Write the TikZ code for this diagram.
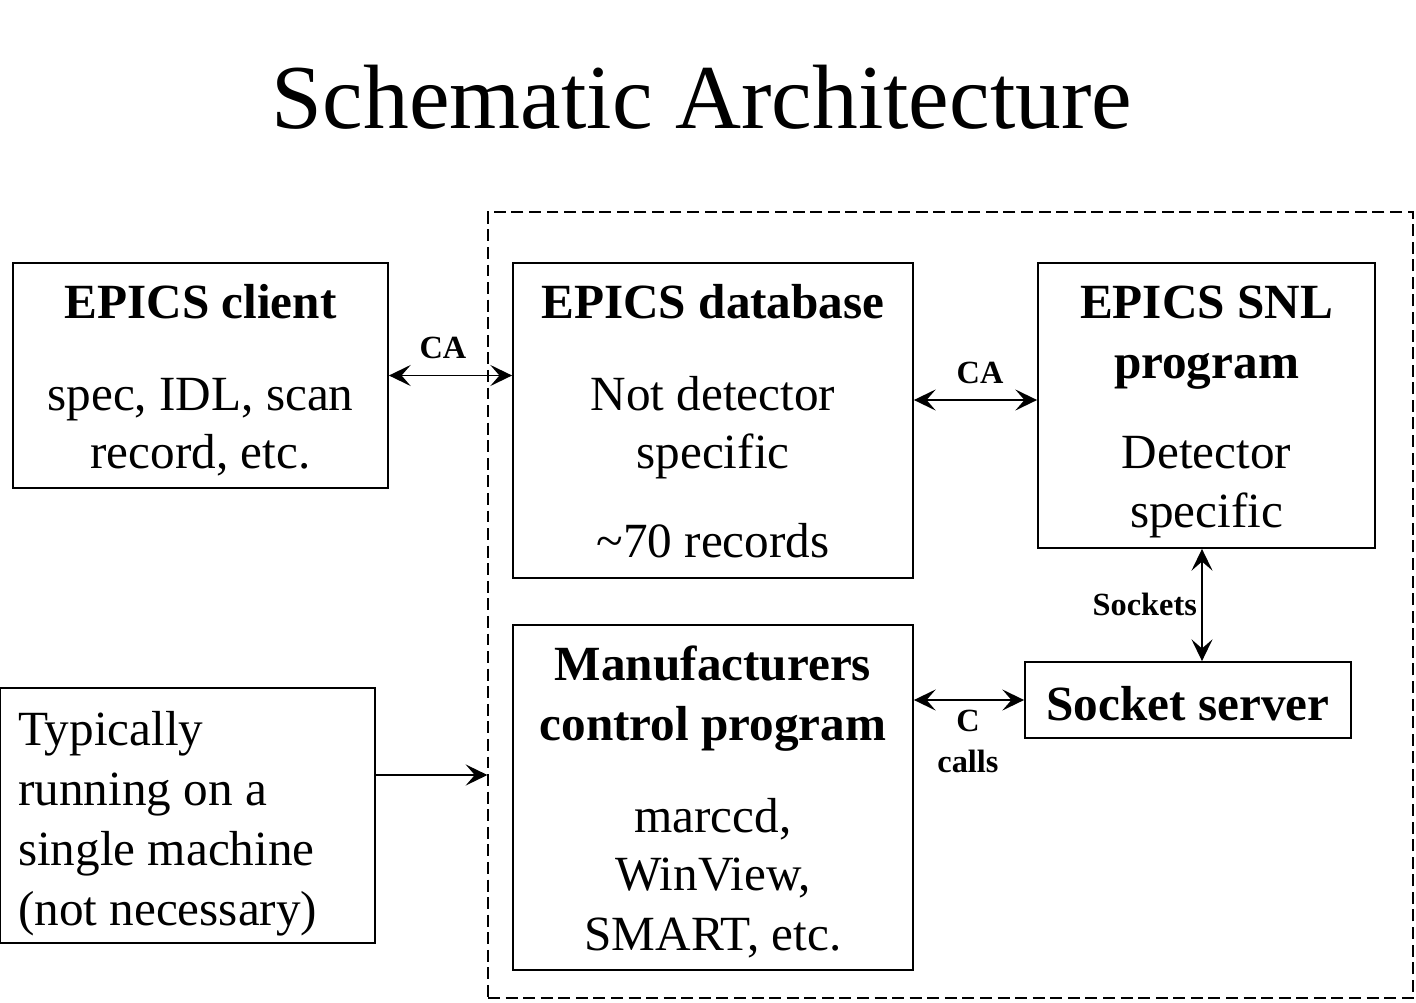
\documentclass[tikz,border=0pt]{standalone}
\usepackage{fontspec}
\setmainfont{Liberation Serif}
\usetikzlibrary{fit,arrows.meta}
\begin{document}
\begin{tikzpicture}[x=0.05cm,y=-0.05cm,
  box/.style={draw, line width=2.6pt, inner sep=0pt},
  dbox/.style={draw, line width=1.6pt, inner sep=0pt, dash pattern=on 17pt off 8pt},
  txt/.style={font=\fontsize{70}{84}\selectfont, anchor=base, inner sep=0pt},
  txtb/.style={font=\fontsize{70}{84}\selectfont\bfseries, anchor=base, inner sep=0pt},
  lab/.style={font=\fontsize{46}{55}\selectfont\bfseries, anchor=base, inner sep=0pt},
  ttl/.style={font=\fontsize{130}{150}\selectfont, anchor=base, inner sep=0pt},
  tip/.style={Stealth[length=31pt,width=30pt,inset=13pt]},
  conn/.style={line width=2.6pt, {Stealth[length=31pt,width=30pt,inset=13pt]}-{Stealth[length=31pt,width=30pt,inset=13pt]}},
  conn1/.style={line width=2.6pt, -{Stealth[length=31pt,width=30pt,inset=13pt]}}
]
\useasboundingbox (0,0) rectangle (1416,1003);
\node[ttl] (title) at (702,128) {Schematic Architecture};

% boxes
\node[dbox, fit={(488,212)(1413,998)}] (dash) {};
\node[box, fit={(13,263)(388,488)}] (client) {};
\node[box, fit={(513,263)(913,578)}] (db) {};
\node[box, fit={(1038,263)(1375,548)}] (snl) {};
\node[box, fit={(513,625)(913,970)}] (man) {};
\node[box, fit={(1025,662)(1351,738)}] (sock) {};
\node[box, fit={(0,688)(375,943)}] (typ) {};

% client text
\node[txtb] (cl1) at (200.5,318) {EPICS client};
\node[txt] (cl2) at (200.5,410) {spec, IDL, scan};
\node[txt] (cl3) at (200.5,468) {record, etc.};

% database text
\node[txtb] (db1) at (713,318) {EPICS database};
\node[txt] (db2) at (713,410) {Not detector};
\node[txt] (db3) at (713,468) {specific};
\node[txt] (db4) at (713,557) {\char"7E 70 records};

% SNL text
\node[txtb] (sn1) at (1206.5,318) {EPICS SNL};
\node[txtb] (sn2) at (1206.5,378) {program};
\node[txt] (sn3) at (1206.5,468) {Detector};
\node[txt] (sn4) at (1206.5,527) {specific};

% manufacturers text
\node[txtb] (mn1) at (713,680) {Manufacturers};
\node[txtb] (mn2) at (713,740) {control program};
\node[txt] (mn3) at (713,832) {marccd,};
\node[txt] (mn4) at (713,890) {WinView,};
\node[txt] (mn5) at (713,950) {SMART, etc.};

% socket server
\node[txtb] (ss1) at (1188,720) {Socket server};

% typically
\node[txt, anchor=base west] (ty1) at (18,745) {Typically};
\node[txt, anchor=base west] (ty2) at (18,805) {running on a};
\node[txt, anchor=base west] (ty3) at (18,865) {single machine};
\node[txt, anchor=base west] (ty4) at (18,925) {(not necessary)};

% connector labels
\node[lab] (lca1) at (443,358) {CA};
\node[lab] (lca2) at (980,383) {CA};
\node[lab, anchor=base east] (lsk) at (1197,615) {Sockets};
\node[lab] (lc1) at (968,731) {C};
\node[lab] (lc2) at (968,772) {calls};

% helper coordinates
\coordinate (ca2) at (975,400);
\coordinate (skc) at (1202,605);
\coordinate (tyc) at (430,775);

% connectors
\draw[conn] (client.east) -- (db.west |- client.east);
\draw[conn] (db.east |- ca2) -- (snl.west |- ca2);
\draw[conn] (snl.south -| skc) -- (sock.north -| skc);
\draw[conn] (man.east |- sock.west) -- (sock.west);
\draw[conn1] (typ.east |- tyc) -- (dash.west |- tyc);
\end{tikzpicture}
\end{document}
